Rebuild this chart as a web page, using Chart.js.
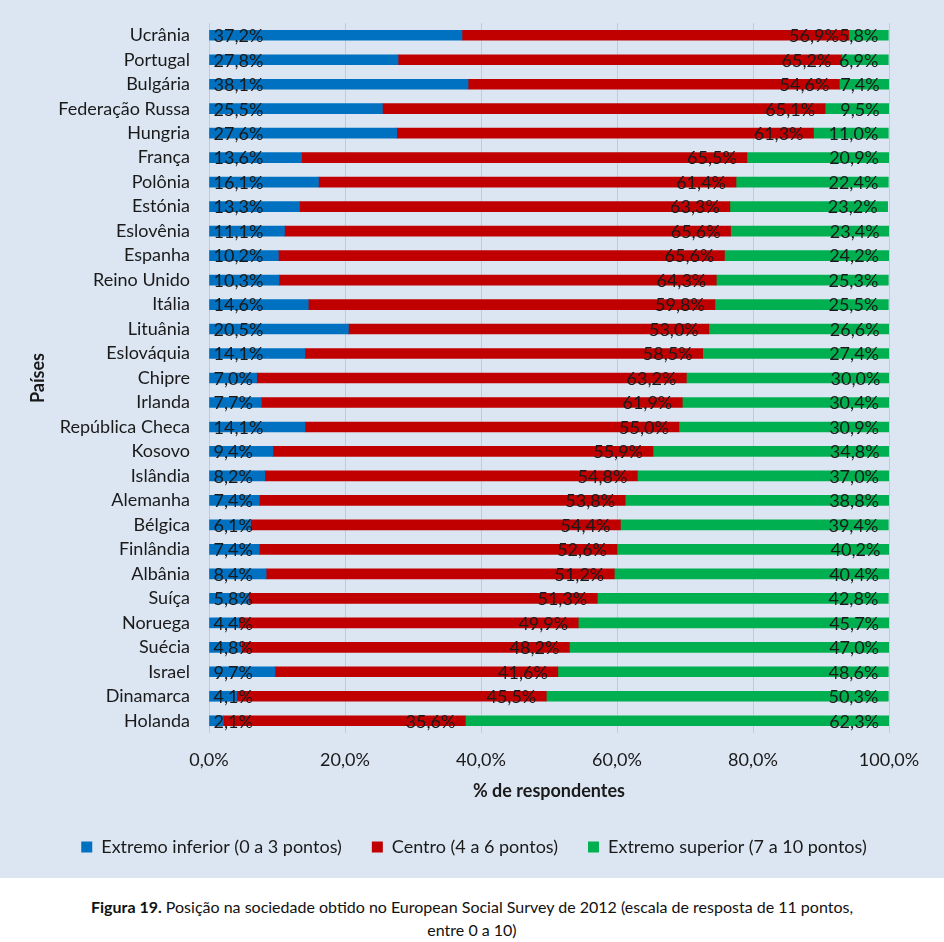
<!DOCTYPE html>
<html><head><meta charset="utf-8">
<script src="https://cdn.jsdelivr.net/npm/chart.js@4/dist/chart.umd.min.js"></script>
<style>
html,body{margin:0;padding:0;background:#fff;}
#wrap{position:relative;width:944px;height:878px;background:#dce6f2;}
#cap{width:944px;text-align:center;font-family:Lato,"Open Sans",sans-serif;font-size:16px;line-height:23px;color:#111;padding-top:17px;}
</style></head>
<body>
<div id="wrap"><canvas id="c" width="944" height="878"></canvas></div>
<div id="cap"><b>Figura 19.</b> Posição na sociedade obtido no European Social Survey de 2012 (escala de resposta de 11 pontos,<br>entre 0 a 10)</div>
<script>
const countries = ["Ucrânia","Portugal","Bulgária","Federação Russa","Hungria","França","Polônia","Estónia","Eslovênia","Espanha","Reino Unido","Itália","Lituânia","Eslováquia","Chipre","Irlanda","República Checa","Kosovo","Islândia","Alemanha","Bélgica","Finlândia","Albânia","Suíça","Noruega","Suécia","Israel","Dinamarca","Holanda"];
const extremoInferior = [37.2,27.8,38.1,25.5,27.6,13.6,16.1,13.3,11.1,10.2,10.3,14.6,20.5,14.1,7.0,7.7,14.1,9.4,8.2,7.4,6.1,7.4,8.4,5.8,4.4,4.8,9.7,4.1,2.1];
const centro = [56.9,65.2,54.6,65.1,61.3,65.5,61.4,63.3,65.6,65.6,64.3,59.8,53.0,58.5,63.2,61.9,55.0,55.9,54.8,53.8,54.4,52.6,51.2,51.3,49.9,48.2,41.6,45.5,35.6];
const extremoSuperior = [5.8,6.9,7.4,9.5,11.0,20.9,22.4,23.2,23.4,24.2,25.3,25.5,26.6,27.4,30.0,30.4,30.9,34.8,37.0,38.8,39.4,40.2,40.4,42.8,45.7,47.0,48.6,50.3,62.3];
const xTicks = [0,20,40,60,80,100];
const seriesNames = ["Extremo inferior (0 a 3 pontos)","Centro (4 a 6 pontos)","Extremo superior (7 a 10 pontos)"];

const FONT = 'Lato, "Open Sans", sans-serif';
const TXT = '#1a1a1a';
const fmt = v => v.toFixed(1).replace('.', ',') + '%';

const labelPlugin = {
  id: 'barLabels',
  afterLayout(chart) {
    const l = chart.legend;
    if (l) { l.left += 18; l.right += 18; }
  },
  afterDatasetsDraw(chart) {
    const ctx = chart.ctx;
    ctx.save();
    ctx.font = '18px ' + FONT;
    ctx.fillStyle = TXT;
    ctx.textBaseline = 'middle';
    chart.data.datasets.forEach((ds, i) => {
      const meta = chart.getDatasetMeta(i);
      meta.data.forEach((el, j) => {
        const v = ds.data[j];
        const s = Math.min(el.x, el.base), e = Math.max(el.x, el.base);
        if (i === 0) { ctx.textAlign = 'left'; ctx.fillText(fmt(v), s + 4, el.y + 1); }
        else { ctx.textAlign = 'right'; ctx.fillText(fmt(v), e - 10, el.y + 1); }
      });
    });
    ctx.restore();
  }
};

new Chart(document.getElementById('c'), {
  type: 'bar',
  data: {
    labels: countries,
    datasets: [
      {label: seriesNames[0], data: extremoInferior, backgroundColor: '#0070c0'},
      {label: seriesNames[1], data: centro, backgroundColor: '#c00000'},
      {label: seriesNames[2], data: extremoSuperior, backgroundColor: '#00b050'}
    ]
  },
  options: {
    indexAxis: 'y',
    responsive: false,
    animation: false,
    layout: {padding: {top: 23, right: 55, bottom: 12, left: 23}},
    datasets: {bar: {barThickness: 10}},
    plugins: {
      legend: {
        position: 'bottom',
        labels: {boxWidth: 11, boxHeight: 11, padding: 30, color: TXT, font: {family: FONT, size: 18}}
      },
      tooltip: {enabled: false}
    },
    scales: {
      x: {
        stacked: true, min: 0, max: 100,
        afterBuildTicks: s => { s.ticks = xTicks.map(v => ({value: v})); },
        ticks: {callback: v => fmt(v), color: TXT, font: {family: FONT, size: 18}, padding: 16},
        grid: {color: 'rgba(185,190,200,0.7)', drawTicks: false},
        border: {display: false},
        title: {display: true, text: '% de respondentes', color: TXT, font: {family: FONT, size: 18, weight: 'bold'}, padding: {top: 0, bottom: 6}},
        afterFit: s => { s.height = 75; }
      },
      y: {
        stacked: true,
        ticks: {autoSkip: false, color: TXT, font: {family: FONT, size: 18}, padding: 19},
        grid: {display: false, drawTicks: false},
        border: {display: false},
        title: {display: true, text: 'Países', color: TXT, font: {family: FONT, size: 18, weight: 'bold'}},
        afterFit: s => { s.width = 209 - 23; s.paddingTop = 0; s.paddingBottom = 0; }
      }
    }
  },
  plugins: [labelPlugin]
});
</script>
</body></html>
